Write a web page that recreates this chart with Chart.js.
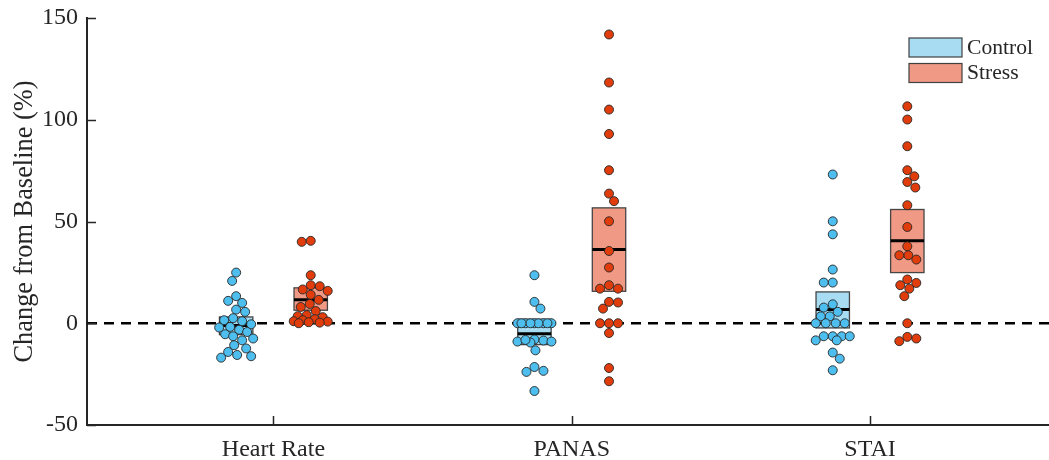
<!DOCTYPE html>
<html>
<head>
<meta charset="utf-8">
<script src="https://cdn.jsdelivr.net/npm/chart.js@4.4.1/dist/chart.umd.min.js"></script>
<style>
  html, body { margin: 0; padding: 0; background: #fff; overflow: hidden; }
  #wrap { width: 1049px; height: 460px; position: relative; }
  canvas { display: block; }
</style>
</head>
<body>
<div id="wrap"><canvas id="chart"></canvas></div>
<script>
// categories / groups
const categories = ['Heart Rate', 'PANAS', 'STAI'];
const groups = ['Control', 'Stress'];
const yTicks = [-50, 0, 50, 100, 150];

// individual values (% change from baseline)
const hrControl = [24.9, 20.8, 13.3, 11.0, 10.0, 6.7, 5.6, 2.5, 1.5, 1.0, -0.5, -1.8, -2.1, -3.2, -4.3, -5.4, -6.4, -7.5, -8.4, -10.8, -12.4, -14.1, -15.6, -16.2, -16.9];
const hrStress = [40.0, 40.5, 23.6, 18.7, 18.2, 16.6, 15.9, 14.0, 11.5, 9.5, 8.0, 6.0, 4.0, 3.5, 3.0, 2.0, 1.5, 1.0, 0.8, 0.5, 0.3, 0.0];
const panasControl = [23.6, 10.5, 7.2, 0, 0, 0, 0, 0, 0, 0, 0, 0, -8.0, -8.5, -9.0, -9.5, -8.2, -9.0, -13.3, -21.5, -23.4, -23.9, -33.3];
const panasStress = [141.9, 118.3, 105.0, 93.0, 75.2, 63.7, 60.0, 50.1, 35.5, 27.4, 18.7, 17.0, 17.0, 10.5, 10.2, 7.2, 0, 0, 0, -4.8, -22.0, -28.5];
const staiControl = [73.1, 50.1, 43.7, 26.4, 20.0, 20.0, 9.3, 7.7, 5.6, 3.4, 3.4, 0, 0, 0, 0, -6.4, -6.4, -6.4, -6.4, -8.4, -8.4, -14.4, -17.4, -23.1];
const staiStress = [106.6, 100.1, 87.0, 75.2, 72.2, 69.4, 66.7, 58.0, 47.3, 37.8, 33.4, 33.4, 31.3, 21.5, 19.8, 18.7, 17.0, 13.3, 0, -6.7, -7.5, -8.8];

// boxes: [Heart Rate, PANAS, STAI]
const boxLowControl = [-5.6, -10.5, -2.3];
const boxMidControl = [-1.1, -5.1, 6.7];
const boxHighControl = [3.1, 2.0, 15.4];
const boxLowStress = [6.4, 15.7, 24.9];
const boxMidStress = [11.6, 36.2, 40.5];
const boxHighStress = [17.4, 56.7, 55.9];

const values = [[hrControl, hrStress], [panasControl, panasStress], [staiControl, staiStress]];
const boxes = [
  { low: boxLowControl, mid: boxMidControl, high: boxHighControl },
  { low: boxLowStress, mid: boxMidStress, high: boxHighStress }
];

const groupOffset = [-0.125, 0.125];
const boxHalf = 0.056;
const pointColors = ['#4dbeee', '#e03c0c'];
const boxColors = ['#a8dcf3', '#f09a85'];
const axisColor = '#262626';
const serif = '"Liberation Serif", "Times New Roman", serif';

const datasets = [];
categories.forEach((cat, i) => {
  groups.forEach((g, j) => {
    datasets.push({
      label: cat + ' ' + g,
      cat: i,
      grp: j,
      data: values[i][j].map(v => ({ x: i + 1 + groupOffset[j], y: v })),
      pointRadius: 4.5,
      pointHoverRadius: 4.5,
      pointBackgroundColor: pointColors[j],
      pointBorderColor: 'rgba(40,40,40,0.9)',
      pointBorderWidth: 1,
      showLine: false
    });
  });
});

// boxes, medians and the zero line, under the points
const boxPlugin = {
  id: 'boxPlugin',
  beforeDatasetsDraw(chart) {
    const { ctx, chartArea: a, scales: { x, y } } = chart;
    ctx.save();
    categories.forEach((cat, i) => {
      groups.forEach((g, j) => {
        const c = i + 1 + groupOffset[j];
        const l = x.getPixelForValue(c - boxHalf);
        const r = x.getPixelForValue(c + boxHalf);
        const top = y.getPixelForValue(boxes[j].high[i]);
        const bot = y.getPixelForValue(boxes[j].low[i]);
        ctx.fillStyle = boxColors[j];
        ctx.fillRect(l, top, r - l, bot - top);
        ctx.strokeStyle = '#454545';
        ctx.lineWidth = 1.3;
        ctx.strokeRect(l, top, r - l, bot - top);
        const m = y.getPixelForValue(boxes[j].mid[i]);
        ctx.strokeStyle = '#000';
        ctx.lineWidth = 3;
        ctx.beginPath();
        ctx.moveTo(l, m);
        ctx.lineTo(r, m);
        ctx.stroke();
      });
    });
    const z = y.getPixelForValue(0);
    ctx.strokeStyle = '#000';
    ctx.lineWidth = 2.5;
    ctx.setLineDash([10, 7]);
    ctx.beginPath();
    ctx.moveTo(a.left, z);
    ctx.lineTo(a.right, z);
    ctx.stroke();
    ctx.restore();
  },
  afterDraw(chart) {
    const { ctx, chartArea: a, scales: { x, y } } = chart;
    ctx.save();
    // inward ticks
    ctx.strokeStyle = axisColor;
    ctx.lineWidth = 1.5;
    ctx.beginPath();
    yTicks.forEach(v => {
      const py = Math.round(y.getPixelForValue(v)) + 0.5;
      ctx.moveTo(a.left, py);
      ctx.lineTo(a.left + 9, py);
    });
    categories.forEach((c, i) => {
      const px = Math.round(x.getPixelForValue(i + 1)) + 0.5;
      ctx.moveTo(px, a.bottom);
      ctx.lineTo(px, a.bottom - 9);
    });
    ctx.stroke();
    // legend
    const lx = a.right - 140;
    groups.forEach((g, j) => {
      const ly = 38 + j * 25.5;
      ctx.fillStyle = boxColors[j];
      ctx.fillRect(lx, ly, 53, 19);
      ctx.strokeStyle = '#404040';
      ctx.lineWidth = 1.2;
      ctx.strokeRect(lx, ly, 53, 19);
      ctx.fillStyle = axisColor;
      ctx.font = '21.6px ' + serif;
      ctx.textBaseline = 'middle';
      ctx.textAlign = 'left';
      ctx.fillText(g, lx + 58, ly + 10);
    });
    ctx.restore();
  }
};

const chart = new Chart(document.getElementById('chart'), {
  type: 'scatter',
  data: { datasets },
  options: {
    responsive: true,
    maintainAspectRatio: false,
    animation: false,
    devicePixelRatio: 1,
    layout: { autoPadding: false, padding: { top: 18, right: 0, left: 0, bottom: 0 } },
    plugins: {
      legend: { display: false },
      tooltip: { enabled: false }
    },
    scales: {
      x: {
        type: 'linear',
        min: 0.375,
        max: 3.6,
        grid: { display: false },
        border: { display: true, color: axisColor, width: 2 },
        afterBuildTicks: s => { s.ticks = categories.map((c, i) => ({ value: i + 1 })); },
        afterFit: s => { s.height = 35; },
        ticks: {
          color: axisColor,
          font: { family: serif, size: 24 },
          padding: 2,
          maxRotation: 0,
          autoSkip: false,
          callback: v => categories[Math.round(v) - 1]
        }
      },
      y: {
        min: -50,
        max: 150,
        grid: { display: false },
        border: { display: true, color: axisColor, width: 2 },
        afterBuildTicks: s => { s.ticks = yTicks.map(v => ({ value: v })); },
        afterFit: s => { s.width = 87; },
        ticks: {
          color: axisColor,
          font: { family: serif, size: 24 },
          padding: 1,
          callback: v => String(v)
        },
        title: {
          display: true,
          text: 'Change from Baseline (%)',
          color: axisColor,
          font: { family: serif, size: 26.4 },
          padding: { top: 9, bottom: 0 }
        }
      }
    }
  },
  plugins: [boxPlugin]
});

// swarm layout of the points, worked out in pixels through the chart's scales
function swarm() {
  const x = chart.scales.x, y = chart.scales.y;
  const diam = 9, maxOff = 17;
  chart.data.datasets.forEach(ds => {
    const vals = values[ds.cat][ds.grp];
    const cx = x.getPixelForValue(ds.cat + 1 + groupOffset[ds.grp]);
    const order = vals.map((v, i) => i).sort((a, b) => vals[b] - vals[a]);
    const placed = [];
    order.forEach((i, n) => {
      const py = y.getPixelForValue(vals[i]);
      let best = 0, bestD = -1;
      search:
      for (let k = 0; k <= maxOff; k++) {
        const cands = k === 0 ? [0] : (n % 2 ? [-k, k] : [k, -k]);
        for (const s of cands) {
          let dmin = Infinity;
          placed.forEach(p => {
            const d = Math.hypot(p.x - s, p.y - py);
            if (d < dmin) dmin = d;
          });
          if (dmin >= diam) { best = s; break search; }
          if (dmin > bestD) { bestD = dmin; best = s; }
        }
      }
      placed.push({ x: best, y: py });
      ds.data[i].x = x.getValueForPixel(cx + best);
    });
  });
  chart.update('none');
}
swarm();
</script>
</body>
</html>
